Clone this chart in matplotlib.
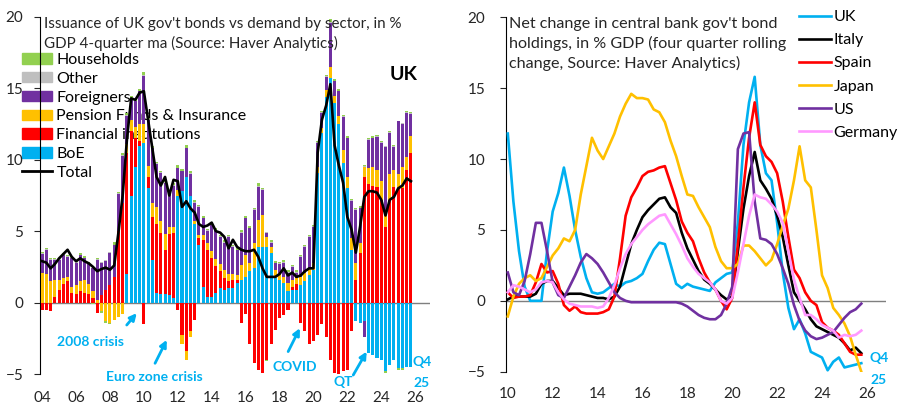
import numpy as np
import matplotlib.pyplot as plt
from matplotlib.patches import Patch
from matplotlib.lines import Line2D

plt.rcParams['font.family'] = ['Lato', 'DejaVu Sans']

# ---- left panel: UK issuance vs demand by sector, quarterly 2004Q1-2025Q4 ----
start_year = 2004
boe = [0, 0, 0, 0,  0, 0, 0, 0,  0, 0, 0, 0,  0, 0, 0, 0,  0, 0, 0, 0,
       2.0, 7.5, 9.5, 11.0,  11.2, 8.0, 3.0, 0.7,  0.6, 0.6, 0.5, 0.3,
       7.5, 7.8, 8.8, 7.5,  5.5, 4.0, 1.1, 0.4,  0.4, 0.65, 1.0, 0.9,
       1.0, 1.0, 1.35, 1.6,  1.8, 2.2, 2.4, 3.9,  3.9, 3.9, 3.5, 1.7,
       1.6, 1.4, 0.8, 0.9,  0.9, 1.2, 1.5, 1.9,  2.3, 9.1, 11.9, 14.4,
       15.7, 14.0, 12.5, 9.8,  8.0, 3.7, -1.3, -1.4,  -1.3, -3.5, -3.7, -3.9,
       -4.0, -4.8, -4.4, -4.0,  -4.6, -4.6, -4.5, -4.5]
fin = [-0.5, -0.5, -0.6, 0.4,  0.9, 1.3, 1.5, 0.7,  0.6, 0.8, 0.7, 0.6,
       0.3, -0.7, 0.5, 0.9,  1.2, 1.8, 5.0, 7.0,  8.5, 4.5, 2.0, 0.3,
       -1.5, 0.8, 3.0, 4.8,  4.3, 3.1, 4.3, 4.6,  -0.5, -2.3, -3.4, -2.0,
       -1.2, 0.5, 3.3, 3.3,  2.7, 1.9, 1.2, 0.8,  0.5, 0.6, 0.2, -1.4,
       -0.8, -2.9, -4.2, -4.7,  -4.9, -4.0, -2.9, -1.9,  -1.1, -0.9, -0.5, 0.2,
       0.4, -1.4, -2.0, -2.9,  -2.7, -2.3, -1.5, -2.4,  -4.0, -4.9, -5.1, -4.8,
       -4.7, -2.0, 1.6, 3.5,  8.8, 8.3, 8.2, 8.1,  7.2, 5.3, 7.2, 8.1,
       8.0, 8.0, 9.3, 10.5]
pens = [2.1, 2.0, 1.5, 1.2,  0.7, 0.4, 0.3, 0.4,  0.6, 0.7, 0.9, 0.7,
        0.5, 0.2, -0.6, -1.3,  -1.4, -1.2, -1.0, -0.8,  0.6, 0.8, 0.8, 1.2,
        1.3, 0.8, 1.0, 1.2,  0.8, 1.1, 0.5, 0.4,  0.4, -0.6, -0.6, -0.4,
        0.2, 0.2, 0.3, 0.5,  0.5, 0.5, 0.5, 0.6,  0.5, 0.4, 0.4, 1.0,
        1.5, 0.6, 1.8, 1.9,  2.2, 0.7, 0.4, 0.6,  0.5, 0.4, 0.6, 0.5,
        0.4, 0.6, 0.6, 0.5,  0.5, 0.4, 0.3, 0.5,  0.8, 0.5, 0.6, 0.9,
        0.8, 0.8, 1.2, 0.7,  0.7, 1.1, 1.3, 1.2,  1.3, 1.2, 1.8, 1.2,
        1.0, 1.5, 0.9, 1.2]
forn = [1.3, 1.7, 1.5, 1.4,  1.4, 1.6, 1.4, 2.0,  1.6, 1.8, 1.5, 1.4,
        1.6, 2.8, 2.3, 2.0,  2.3, 2.2, 2.6, 3.3,  2.0, 1.5, 1.8, 2.3,
        3.4, 3.2, 3.8, 3.0,  3.4, 3.6, 2.4, 2.9,  1.5, 1.4, 2.0, 1.5,
        1.3, 2.0, 1.2, 0.8,  1.8, 2.0, 1.9, 1.9,  2.6, 1.9, 1.7, 2.3,
        2.6, 2.4, 2.3, 2.3,  1.8, 0.3, 0.3, 0.45,  0.6, 1.0, 0.7, 0.9,
        0.4, 1.4, 1.8, 2.2,  2.5, 1.7, 1.1, 0.9,  3.1, 1.0, 1.7, 2.3,
        2.7, 2.6, 3.7, 2.4,  -1.1, 2.0, 2.0, 2.3,  2.7, 4.4, 2.9, 1.6,
        3.7, 3.0, 3.1, 1.5]
other = [0.05, 0.05, 0.05, 0.05,  0.05, 0.05, 0.05, 0.05,  0.05, 0.05, 0.05, 0.05,
         0.05, 0.05, 0.05, 0.05,  0.05, 0.05, 0.05, 0.05,  0.05, 0.05, 0.05, 0.05,
         0.05, 0.05, 0.05, 0.05,  0.05, 0.05, 0.05, 0.05,  0.05, 0.05, 0.05, 0.05,
         0.05, 0.05, 0.05, 0.05,  0.05, 0.05, 0.05, 0.05,  0.05, 0.05, 0.05, 0.05,
         0.05, 0.05, 0.05, 0.05,  0.05, 0.05, 0.05, 0.05,  0.05, 0.05, 0.05, 0.05,
         0.05, 0.05, 0.05, 0.05,  0.05, 0.05, 0.05, 0.05,  0.05, 0.05, 0.05, 0.05,
         0.05, 0.05, 0.05, 0.05,  0.05, 0.05, 0.05, 0.05,  0.05, 0.05, 0.05, 0.05,
         0.05, 0.05, 0.05, 0.05]
hh = [0.1, 0.1, 0.1, 0.1,  0.1, 0.1, 0.1, 0.1,  0.1, 0.1, 0.1, 0.1,
      -0.1, 0.1, -0.1, -0.1,  -0.1, 0.2, 0.1, 0.1,  0.1, 0.1, 0.1, 0.1,
      0.2, 0.1, 0.1, 0.1,  0.1, 0.1, 0.1, 0.1,  0.2, 0.1, 0.2, 0.2,
      0.1, 0.1, 0.1, 0.1,  0.1, 0.1, 0.1, 0.1,  0.1, 0.1, 0.1, 0.1,
      0.1, 0.1, 0.1, 0.2,  0.1, -0.1, 0.1, 0.1,  0.1, 0.1, 0.1, 0.1,
      0.1, 0.1, 0.1, 0.1,  0.1, 0.1, 0.1, 0.1,  0.2, 0.1, 0.1, 0.1,
      0.1, 0.1, 0.1, 0.1,  0.1, 0.1, 0.1, 0.1,  0.1, -0.15, 0.1, 0.1,
      -0.1, -0.1, 0.1, 0.1]
total = [2.9, 2.8, 2.4, 2.7,  3.1, 3.4, 3.7, 3.2,  2.9, 3.1, 2.9, 2.75,
         2.5, 2.2, 2.35, 2.45,  2.3, 2.6, 4.9, 7.5,  11.4, 14.3, 14.2, 14.7,
         14.8, 12.8, 10.8, 8.8,  8.2, 8.8, 7.5, 8.6,  8.5, 6.7, 7.1, 6.6,
         6.3, 5.5, 5.3, 5.4,  5.6, 5.0, 4.9, 4.6,  3.8, 4.4, 3.9, 3.7,
         3.6, 3.6, 3.7, 3.2,  2.4, 1.8, 1.8, 1.8,  2.0, 2.4, 1.9, 2.1,
         1.8, 1.9, 2.2, 2.4,  2.4, 10.5, 12.8, 13.8,  15.3, 11.0, 9.6, 8.4,
         6.0, 5.1, 3.5, 5.3,  7.4, 7.8, 7.8, 7.7,  7.2, 6.1, 7.2, 7.4,
         8.0, 8.2, 8.7, 8.5]

sectors = ['BoE', 'Financial institutions', 'Pension Funds & Insurance',
           'Foreigners', 'Other', 'Households']
sector_vals = [boe, fin, pens, forn, other, hh]
sector_cols = ['#00B0F0', '#FF0000', '#FFC000', '#7030A0', '#BFBFBF', '#92D050']

# ---- right panel: net change in central bank gov't bond holdings, 2010Q1-2025Q4 ----
start_year2 = 2010
uk = [11.8, 7.0, 3.5, 1.0, 0.0, 0.0, 0.0, 3.5, 6.3, 7.6, 9.4, 7.4, 5.0, 3.1, 1.6, 0.6,
      0.5, 0.6, 0.9, 1.2, 1.0, 1.3, 1.4, 1.6, 1.9, 2.8, 3.6, 4.1, 4.0, 2.6, 1.2, 0.9,
      1.2, 1.0, 0.9, 0.8, 0.7, 1.3, 1.6, 1.9, 2.0, 5.5, 11.0, 14.0, 15.8, 11.0, 9.0, 8.5,
      5.5, 2.0, -0.5, -2.0, -1.3, -2.3, -3.6, -3.8, -4.0, -4.9, -4.3, -4.0, -4.7, -4.6, -4.5, -4.4]
italy = [0.1, 0.3, 0.3, 0.3, 0.3, 0.5, 1.2, 1.4, 1.4, 0.9, 0.4, 0.5, 0.5, 0.5, 0.4, 0.3,
         0.2, 0.2, 0.1, 0.3, 1.0, 2.5, 4.0, 5.0, 5.9, 6.4, 6.8, 7.2, 7.3, 6.6, 6.2, 4.8,
         3.7, 2.9, 2.1, 1.5, 1.2, 0.8, 0.4, 0.1, 0.3, 3.5, 6.5, 8.8, 10.5, 8.5, 7.9, 7.2,
         6.0, 4.5, 2.5, 0.6, 0.0, -0.6, -1.3, -1.8, -2.0, -2.2, -2.4, -2.6, -3.0, -3.5, -3.3, -3.7]
spain = [0.6, 0.2, 0.3, 0.3, 0.4, 1.3, 2.6, 2.0, 2.1, 1.2, -0.3, -0.7, -0.4, -0.8, -0.9, -0.9,
         -0.9, -0.8, -0.6, 0.3, 3.0, 6.0, 7.3, 8.0, 8.8, 9.1, 9.2, 9.4, 9.5, 8.3, 7.1, 5.6,
         4.8, 4.2, 3.0, 2.0, 1.3, 0.8, 0.0, -0.6, 0.2, 4.0, 8.0, 11.5, 14.0, 11.0, 10.2, 9.8,
         9.0, 7.0, 4.5, 2.2, 1.6, 0.6, 0.0, -0.3, -1.5, -1.9, -2.1, -2.4, -3.0, -3.6, -3.8, -3.8]
japan = [-1.1, 0.3, 1.2, 1.6, 1.8, 1.4, 1.6, 2.4, 3.2, 3.7, 4.4, 4.2, 5.0, 7.5, 9.5, 11.5,
         10.6, 10.0, 10.9, 11.8, 13.0, 13.9, 14.6, 14.3, 14.3, 14.2, 13.5, 13.3, 12.6, 11.3, 10.2, 8.8,
         7.5, 7.4, 6.6, 5.9, 5.2, 3.8, 2.8, 2.3, 2.3, 2.6, 3.9, 3.9, 3.5, 3.0, 2.5, 2.9,
         4.0, 5.3, 6.5, 8.5, 10.9, 8.5, 8.0, 5.0, 1.8, 0.9, -0.5, -1.0, -1.6, -2.5, -3.8, -5.0]
us = [2.0, 0.6, 0.4, 1.4, 3.3, 5.5, 5.5, 3.5, 1.3, 0.4, 0.2, 1.0, 1.8, 2.7, 3.3, 3.0,
      2.6, 2.0, 1.3, 0.6, 0.2, 0.0, -0.1, -0.1, -0.1, -0.1, -0.1, -0.1, -0.1, -0.1, -0.1, -0.2,
      -0.4, -0.7, -1.0, -1.2, -1.3, -1.3, -1.0, -0.2, 1.0, 10.7, 11.8, 11.9, 7.0, 4.4, 4.3, 4.0,
      3.3, 2.3, 1.2, -0.3, -1.4, -2.1, -2.5, -2.7, -2.6, -2.4, -2.2, -1.7, -1.2, -0.8, -0.6, -0.2]
germany = [0.6, 1.1, 1.0, 0.8, 0.6, 0.8, 1.3, 1.4, 1.3, 0.6, 0.1, -0.2, -0.3, -0.4, -0.4, -0.4,
           -0.5, -0.4, 0.2, 1.1, 2.3, 3.3, 4.0, 4.5, 5.0, 5.4, 5.7, 6.0, 6.1, 5.4, 4.7, 3.9,
           3.0, 2.4, 1.9, 1.6, 1.3, 0.8, 0.0, -0.2, 0.2, 2.0, 4.0, 6.0, 7.5, 7.3, 7.2, 6.8,
           6.3, 5.5, 3.5, 1.5, 0.2, -1.0, -1.0, -1.3, -1.7, -1.9, -2.1, -2.6, -2.4, -2.5, -2.4, -2.1]

countries = ['UK', 'Italy', 'Spain', 'Japan', 'US', 'Germany']
country_vals = [uk, italy, spain, japan, us, germany]
country_cols = ['#00B0F0', '#000000', '#FF0000', '#FFC000', '#7030A0', '#FF99FF']

year_ticks_left = list(range(2004, 2027, 2))
year_ticks_right = list(range(2010, 2027, 2))
y_ticks = [-5, 0, 5, 10, 15, 20]
cyan = '#00B0F0'
txt = '#262626'

fig = plt.figure(figsize=(9.02, 4.17), dpi=100)
W, H = 902, 417

# ---------------- left ----------------
ax = fig.add_axes([40 / W, 1 - 374 / H, 390 / W, 357 / H])
xq = start_year + np.arange(len(boe)) / 4
pos_bot = np.zeros(len(boe))
neg_bot = np.zeros(len(boe))
for name, vals, col in zip(sectors, sector_vals, sector_cols):
    v = np.array(vals, dtype=float)
    p = np.where(v > 0, v, 0)
    n = np.where(v < 0, v, 0)
    ax.bar(xq, p, bottom=pos_bot, width=0.18, color=col, zorder=3, linewidth=0)
    ax.bar(xq, n, bottom=neg_bot, width=0.18, color=col, zorder=3, linewidth=0)
    pos_bot += p
    neg_bot += n
ax.plot(xq, total, color='black', lw=1.9, zorder=4)
ax.axhline(0, color='#7F7F7F', lw=1, zorder=2)

ax.set_xlim(2003.875, 2026.875)
ax.set_ylim(-5, 20)
ax.set_yticks(y_ticks)
ax.set_xticks(year_ticks_left)
ax.set_xticklabels([f'{y % 100:02d}' for y in year_ticks_left])
for s in ['top', 'right', 'bottom']:
    ax.spines[s].set_visible(False)
ax.spines['left'].set_color('black')
ax.tick_params(axis='x', length=0, labelsize=11, colors=txt, pad=12)
ax.tick_params(axis='y', length=4, direction='out', labelsize=11, colors=txt, pad=8)

handles = [Patch(color=c) for c in sector_cols[::-1]] + [Line2D([], [], color='black', lw=2)]
labels = sectors[::-1] + ['Total']
leg = ax.legend(handles, labels, loc='upper left', bbox_to_anchor=(22 / W, 1 - 53 / H),
                bbox_transform=fig.transFigure, frameon=False, fontsize=11.5,
                handlelength=1.9, handleheight=0.62, handletextpad=0.25, labelspacing=0.3,
                borderaxespad=0, borderpad=0)
leg.set_zorder(1)

fig.text(44 / W, 1 - 17 / H,
         "Issuance of UK gov't bonds vs demand by sector, in %\nGDP 4-quarter ma (Source: Haver Analytics)",
         ha='left', va='top', fontsize=10.9, linespacing=1.4, color=txt)
ax.text(2025.34, 15.95, 'UK', ha='center', va='center', fontsize=14, fontweight='bold', color='black')

ann = dict(color=cyan, fontsize=10, fontweight='bold', ha='center', va='center')
arr = dict(arrowstyle='-|>', color=cyan, lw=2, mutation_scale=10, shrinkA=0, shrinkB=0)
ax.text(2006.88, -2.77, '2008 crisis', **ann)
ax.annotate('', xy=(2009.58, -0.74), xytext=(2008.99, -1.57), arrowprops=arr)
ax.text(2010.6, -5.2, 'Euro zone crisis', clip_on=False, **ann)
ax.annotate('', xy=(2011.35, -2.61), xytext=(2010.66, -4.25), arrowprops=arr)
ax.text(2018.88, -4.5, 'COVID', **ann)
ax.annotate('', xy=(2019.2, -1.79), xytext=(2018.51, -3.43), arrowprops=arr)
ax.text(2021.74, -5.54, 'QT', clip_on=False, **ann)
ax.annotate('', xy=(2023.14, -3.43), xytext=(2022.35, -5.07), arrowprops=arr)
ax.text(2026.4, -4.13, 'Q4', clip_on=False, **ann)
ax.text(2026.35, -5.6, '25', clip_on=False, **ann)

# ---------------- right ----------------
ax2 = fig.add_axes([506 / W, 1 - 371.7 / H, 380 / W, 354.4 / H])
xr = start_year2 + np.arange(len(uk)) / 4
for name, vals, col in zip(countries, country_vals, country_cols):
    ax2.plot(xr, vals, color=col, lw=1.9, label=name, zorder=3)
ax2.axhline(0, color='#7F7F7F', lw=1, zorder=2)
ax2.set_xlim(2009.92, 2026.85)
ax2.set_ylim(-5, 20)
ax2.set_yticks(y_ticks)
ax2.set_xticks(year_ticks_right)
ax2.set_xticklabels([f'{y % 100:02d}' for y in year_ticks_right])
for s in ['top', 'right', 'bottom']:
    ax2.spines[s].set_visible(False)
ax2.tick_params(axis='x', length=0, labelsize=11, colors=txt, pad=11)
ax2.tick_params(axis='y', length=4, direction='out', labelsize=11, colors=txt, pad=11)

ax2.legend(loc='upper left', bbox_to_anchor=(799 / W, 1 - 10 / H), bbox_transform=fig.transFigure,
           frameon=False, fontsize=11.5, handlelength=2.0, handletextpad=0.15,
           labelspacing=0.56, borderaxespad=0, borderpad=0)

fig.text(509 / W, 1 - 17 / H,
         "Net change in central bank gov't bond\nholdings, in % GDP (four quarter rolling\nchange, Source: Haver Analytics)",
         ha='left', va='top', fontsize=11.6, linespacing=1.42, color=txt)
ax2.text(2026.55, -4.03, 'Q4', clip_on=False, **ann)
ax2.text(2026.5, -5.58, '25', clip_on=False, **ann)

fig.savefig('out.png', dpi=100)
